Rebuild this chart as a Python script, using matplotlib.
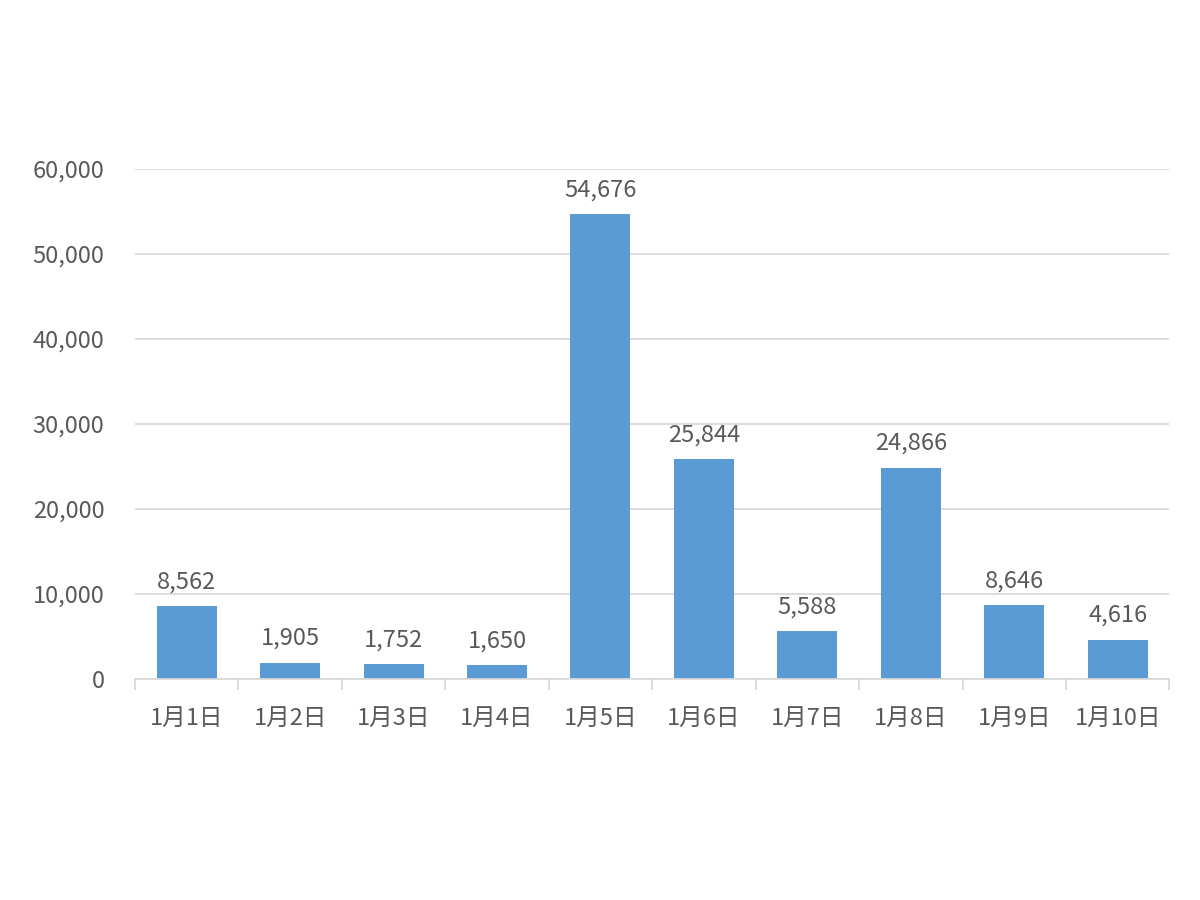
import matplotlib.pyplot as plt
from matplotlib.ticker import FuncFormatter, FixedLocator

plt.rcParams['font.family'] = ['Noto Sans CJK JP', 'DejaVu Sans']

days = ["1月1日", "1月2日", "1月3日", "1月4日", "1月5日",
        "1月6日", "1月7日", "1月8日", "1月9日", "1月10日"]
counts = [8562, 1905, 1752, 1650, 54676, 25844, 5588, 24866, 8646, 4616]

text_col = "#595959"
bar_col = "#5B9BD5"
grid_col = "#D9D9D9"

fig = plt.figure(figsize=(12, 9), dpi=100)
ax = fig.add_axes([0.1125, 0.2456, 0.862, 0.5667])

x = list(range(len(days)))
bars = ax.bar(x, counts, width=0.58, color=bar_col, zorder=3)

for xi, v in zip(x, counts):
    ax.text(xi, v + 1500, f"{v:,}", ha="center", va="bottom",
            fontsize=17, color=text_col)

ax.set_xlim(-0.5, len(days) - 0.5)
ax.set_ylim(0, 60000)
ax.set_yticks(range(0, 60001, 10000))
ax.yaxis.set_major_formatter(FuncFormatter(lambda v, p: f"{int(v):,}"))
ax.grid(axis="y", color=grid_col, linewidth=1.3, zorder=0)

ax.set_xticks(x)
ax.set_xticklabels(days)
ax.tick_params(axis="x", which="major", length=0, pad=20,
               labelsize=17, labelcolor=text_col)
ax.xaxis.set_minor_locator(FixedLocator([i - 0.5 for i in range(len(days) + 1)]))
ax.tick_params(axis="x", which="minor", length=8, color=grid_col, width=1.3)
ax.tick_params(axis="y", length=0, pad=22, labelsize=17, labelcolor=text_col)

for s in ["top", "right", "left"]:
    ax.spines[s].set_visible(False)
ax.spines["bottom"].set_color(grid_col)
ax.spines["bottom"].set_linewidth(1.3)
ax.spines["bottom"].set_zorder(4)

fig.savefig("out.png", dpi=100)
